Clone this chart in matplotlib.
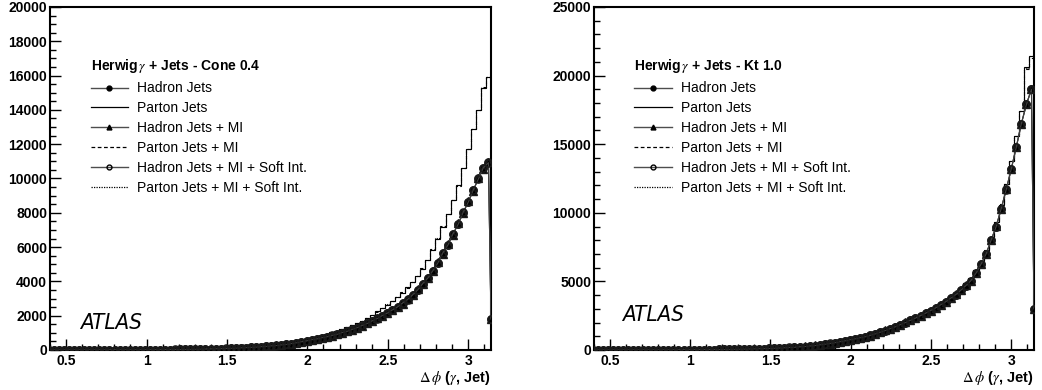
import numpy as np
import matplotlib
matplotlib.use("Agg")
import matplotlib.pyplot as plt
from matplotlib.lines import Line2D
from matplotlib.ticker import MultipleLocator

plt.rcParams['font.family'] = ['Liberation Sans', 'DejaVu Sans']
plt.rcParams['mathtext.fontset'] = 'stix'

# Delta phi binning: 100 bins over [0, pi], bins 12..99 shown, plus the edge point at pi
n_bins = 100
first_bin = 12
phi_edge_point = np.pi

# ---- Cone 0.4 ----
cone_hadron = [4, 4, 5, 5, 5, 6, 6, 6, 7, 7, 8, 8, 9, 9, 10, 11, 11, 12, 13, 14,
               16, 18, 20, 22, 25, 28, 31, 35, 39, 44, 49, 55, 61, 68, 76, 85,
               100, 110, 122, 136, 152, 170, 190, 212, 236, 262, 290, 330, 370, 420, 475,
               535, 590, 645, 705, 770, 840, 915, 1000, 1090, 1190, 1300, 1420, 1550, 1690, 1840,
               2000, 2160, 2330, 2520, 2720, 2950, 3200, 3520, 3850, 4200, 4600, 5100, 5650,
               6150, 6750, 7350, 8000, 8650, 9300, 10000, 10600, 10950]
cone_hadron_mi = [4, 5, 5, 5, 6, 6, 6, 7, 7, 8, 8, 9, 9, 10, 10, 11, 12, 12, 13, 15,
                  16, 18, 20, 23, 25, 28, 32, 35, 40, 44, 50, 55, 62, 69, 77, 86,
                  98, 111, 121, 137, 150, 171, 188, 214, 234, 265, 288, 332, 368, 424, 470,
                  540, 585, 650, 700, 776, 835, 920, 995, 1100, 1180, 1310, 1410, 1560, 1680, 1850,
                  1990, 2170, 2320, 2530, 2710, 2960, 3190, 3540, 3830, 4220, 4580, 5120, 5620,
                  6180, 6720, 7380, 7970, 8680, 9270, 10050, 10580, 10980]
cone_hadron_mi_soft = [5, 5, 5, 6, 6, 6, 7, 7, 7, 8, 8, 9, 9, 10, 11, 11, 12, 13, 14, 15,
                       17, 19, 21, 23, 26, 29, 32, 36, 40, 45, 50, 56, 62, 70, 78, 87,
                       102, 109, 125, 134, 155, 168, 193, 210, 240, 259, 295, 326, 375, 415, 480,
                       530, 598, 640, 712, 765, 848, 910, 1010, 1085, 1200, 1295, 1430, 1545, 1700, 1835,
                       2010, 2150, 2340, 2510, 2735, 2940, 3215, 3505, 3870, 4190, 4620, 5080, 5670,
                       6130, 6780, 7330, 8030, 8620, 9330, 9970, 10630, 10920]
cone_hadron_edge = [1800, 1800, 1800]

cone_parton = [4, 5, 5, 6, 6, 6, 7, 7, 8, 8, 9, 9, 10, 11, 11, 12, 13, 14, 15, 16,
               18, 20, 22, 25, 28, 31, 35, 39, 43, 48, 54, 60, 67, 75, 84, 94,
               105, 117, 130, 145, 162, 181, 202, 226, 252, 281, 313, 350, 400, 460, 540,
               620, 690, 765, 845, 930, 1020, 1115, 1215, 1320, 1430, 1550, 1690, 1860, 2050, 2250,
               2450, 2650, 2870, 3100, 3350, 3650, 3980, 4300, 4750, 5250, 5850, 6500, 7200,
               7950, 8750, 9600, 10600, 11700, 12900, 14000, 15300, 15900]
cone_parton_mi = [4, 5, 6, 6, 6, 7, 7, 8, 8, 9, 9, 10, 10, 11, 12, 12, 13, 14, 15, 17,
                  18, 20, 23, 25, 28, 32, 35, 39, 44, 49, 54, 61, 68, 76, 85, 95,
                  106, 116, 131, 144, 164, 180, 204, 224, 255, 279, 316, 348, 404, 458, 545,
                  615, 695, 760, 850, 925, 1025, 1110, 1220, 1315, 1440, 1545, 1700, 1850, 2060, 2240,
                  2460, 2640, 2880, 3090, 3360, 3640, 3990, 4290, 4760, 5240, 5860, 6490, 7210,
                  7940, 8760, 9590, 10610, 11690, 12910, 13990, 15310, 15890]
cone_parton_mi_soft = [5, 5, 5, 6, 7, 6, 7, 8, 8, 8, 9, 10, 10, 11, 11, 13, 13, 14, 16, 16,
                       19, 20, 22, 26, 28, 31, 36, 39, 43, 49, 54, 60, 68, 75, 85, 94,
                       105, 118, 129, 146, 161, 182, 201, 227, 251, 282, 312, 352, 398, 462, 538,
                       622, 688, 768, 842, 933, 1018, 1118, 1212, 1324, 1428, 1553, 1688, 1863, 2048, 2253,
                       2448, 2654, 2866, 3104, 3346, 3655, 3975, 4305, 4745, 5255, 5845, 6505, 7195,
                       7955, 8745, 9605, 10595, 11705, 12895, 14005, 15295, 15905]

# ---- Kt 1.0 ----
kt_hadron = [5, 5, 6, 6, 7, 7, 8, 8, 9, 10, 10, 11, 12, 13, 14, 15, 16, 17, 18, 20,
             22, 24, 27, 30, 33, 37, 41, 46, 51, 57, 64, 71, 80, 90, 101, 113,
             127, 143, 160, 180, 202, 226, 253, 285, 325,
             370, 420, 470, 530, 595, 665, 740, 810, 880, 960, 1060, 1170, 1290, 1420, 1550,
             1690, 1840, 2000, 2160, 2330, 2500,
             2680, 2870, 3070, 3290, 3520, 3770, 4040, 4350, 4700, 5050, 5600, 6250, 7000,
             8000, 9000, 10300, 11700, 13200, 14800, 16500, 17900, 19000]
kt_hadron_mi = [5, 6, 6, 6, 7, 8, 8, 9, 9, 10, 11, 11, 12, 13, 14, 15, 16, 18, 19, 20,
                22, 25, 27, 30, 34, 37, 42, 46, 52, 57, 65, 71, 81, 89, 102, 112,
                128, 142, 162, 179, 204, 224, 256, 283, 328,
                366, 424, 466, 535, 590, 670, 735, 815, 875, 965, 1055, 1175, 1285, 1425, 1545,
                1695, 1835, 2010, 2150, 2340, 2490,
                2690, 2860, 3080, 3280, 3530, 3760, 4050, 4340, 4710, 5040, 5610, 6240, 7010,
                7990, 9010, 10290, 11710, 13190, 14810, 16490, 17910, 18990]
kt_hadron_mi_soft = [5, 5, 6, 7, 7, 7, 8, 9, 9, 10, 10, 11, 12, 14, 14, 15, 17, 17, 19, 20,
                     23, 24, 28, 30, 34, 38, 41, 47, 51, 58, 64, 72, 80, 91, 100, 114,
                     126, 144, 159, 182, 200, 228, 251, 288, 322,
                     373, 417, 474, 526, 600, 660, 745, 805, 885, 955, 1065, 1165, 1295, 1415, 1555,
                     1685, 1845, 1995, 2165, 2325, 2505,
                     2675, 2875, 3065, 3295, 3515, 3775, 4035, 4355, 4695, 5055, 5595, 6255, 6995,
                     8005, 8995, 10305, 11695, 13205, 14795, 16505, 17895, 19010]
kt_hadron_edge = [3000, 3000, 3000]

kt_parton = [5, 6, 6, 7, 7, 8, 8, 9, 10, 10, 11, 12, 13, 14, 15, 16, 17, 18, 20, 21,
             23, 26, 28, 31, 35, 39, 43, 48, 54, 60, 67, 75, 84, 94, 106, 119,
             133, 150, 168, 188, 211, 236, 265, 298, 338,
             385, 435, 490, 550, 615, 690, 765, 840, 915, 1000, 1100, 1210, 1335, 1465, 1600,
             1745, 1900, 2060, 2225, 2400, 2580,
             2760, 2960, 3170, 3390, 3630, 3890, 4170, 4490, 4850, 5250, 5800, 6450, 7250,
             8250, 9300, 10600, 12100, 13800, 15600, 17400, 20600, 21400]
kt_parton_mi = [5, 6, 7, 7, 8, 8, 9, 9, 10, 11, 11, 12, 13, 14, 15, 16, 18, 19, 20, 22,
                24, 26, 29, 32, 35, 39, 44, 49, 54, 61, 68, 76, 85, 95, 107, 120,
                134, 151, 170, 190, 213, 238, 267, 300, 340,
                388, 438, 493, 553, 620, 694, 770, 845, 920, 1006, 1106, 1216, 1341, 1471, 1606,
                1751, 1906, 2066, 2231, 2406, 2586,
                2766, 2966, 3176, 3396, 3636, 3896, 4176, 4496, 4856, 5256, 5806, 6456, 7256,
                8256, 9306, 10606, 12106, 13806, 15606, 17406, 20500, 21300]
kt_parton_mi_soft = [5, 6, 6, 7, 7, 8, 9, 9, 10, 10, 11, 12, 13, 14, 15, 17, 17, 19, 20, 21,
                     23, 26, 29, 31, 35, 40, 43, 49, 54, 60, 68, 75, 85, 94, 107, 119,
                     134, 150, 169, 188, 212, 236, 266, 298, 339,
                     386, 436, 491, 551, 617, 692, 767, 842, 917, 1003, 1103, 1213, 1338, 1468, 1603,
                     1748, 1903, 2063, 2228, 2403, 2583,
                     2763, 2963, 3173, 3393, 3633, 3893, 4173, 4493, 4853, 5253, 5803, 6453, 7253,
                     8253, 9303, 10603, 12103, 13803, 15603, 17403, 20550, 21450]

edges = np.linspace(0, np.pi, n_bins + 1)[first_bin:]
centers = 0.5 * (edges[:-1] + edges[1:])
x_markers = np.append(centers, phi_edge_point)

hadron_styles = [
    ('Hadron Jets', 'o', 'k'),
    ('Hadron Jets + MI', '^', 'k'),
    ('Hadron Jets + MI + Soft Int.', 'o', 'none'),
]
parton_styles = [
    ('Parton Jets', '-'),
    ('Parton Jets + MI', (0, (3, 2))),
    ('Parton Jets + MI + Soft Int.', (0, (1, 1))),
]

panels = [
    dict(rect=[0.048, 0.1026, 0.4232, 0.8795], ymax=20000, major=2000, minor=500,
         title=r'Herwig$\,\gamma$ + Jets - Cone 0.4',
         hadron=[cone_hadron, cone_hadron_mi, cone_hadron_mi_soft], hadron_edge=cone_hadron_edge,
         parton=[cone_parton, cone_parton_mi, cone_parton_mi_soft],
         leg_anchor=(0.092, 0.853), atlas=(0.068, 0.05)),
    dict(rect=[0.570, 0.1026, 0.4223, 0.8795], ymax=25000, major=5000, minor=1000,
         title=r'Herwig$\,\gamma$ + Jets - Kt 1.0',
         hadron=[kt_hadron, kt_hadron_mi, kt_hadron_mi_soft], hadron_edge=kt_hadron_edge,
         parton=[kt_parton, kt_parton_mi, kt_parton_mi_soft],
         leg_anchor=(0.092, 0.853), atlas=(0.063, 0.072)),
]

fig = plt.figure(figsize=(10.42, 3.9), dpi=100)

for p in panels:
    ax = fig.add_axes(p['rect'])

    # parton-level histograms as steps
    for vals, (label, ls) in zip(p['parton'], parton_styles):
        ax.stairs(vals, edges, baseline=0, color='k', lw=0.8, linestyle=ls, zorder=2)

    # hadron-level histograms with markers
    for vals, edge_val, (label, mk, fc) in zip(p['hadron'], p['hadron_edge'], hadron_styles):
        ax.plot(x_markers, list(vals) + [edge_val], color='0.25', lw=0.8, marker=mk,
                ms=5.2, mfc=fc, mec='0.1', mew=1.0, zorder=3)

    ax.set_xlim(0.4, np.pi)
    ax.set_ylim(0, p['ymax'])

    ax.xaxis.set_major_locator(MultipleLocator(0.5))
    ax.xaxis.set_minor_locator(MultipleLocator(0.1))
    ax.yaxis.set_major_locator(MultipleLocator(p['major']))
    ax.yaxis.set_minor_locator(MultipleLocator(p['minor']))
    ax.tick_params(which='both', direction='in', top=False, right=False, width=1.0)
    ax.tick_params(which='major', length=8)
    ax.tick_params(which='minor', length=4)
    ax.tick_params(axis='x', pad=3)
    ax.tick_params(axis='y', pad=2)
    ax.set_xticks([0.5, 1, 1.5, 2, 2.5, 3])
    ax.set_xticklabels(['0.5', '1', '1.5', '2', '2.5', '3'])
    for lbl in ax.get_xticklabels() + ax.get_yticklabels():
        lbl.set_fontweight('bold')
        lbl.set_fontsize(10)
    for sp in ax.spines.values():
        sp.set_linewidth(1.5)

    ax.text(1.0, -0.083, r'$\Delta\,\phi$ ($\gamma$, Jet)', transform=ax.transAxes,
            ha='right', va='center', fontsize=10.5, fontweight='bold')

    ax.text(p['atlas'][0], p['atlas'][1], 'ATLAS', transform=ax.transAxes,
            ha='left', va='bottom', fontsize=16, fontstyle='italic',
            family=['DejaVu Sans'], fontstretch='condensed')

    handles = []
    labels = []
    for (hl, mk, fc), (pl, ls) in zip(hadron_styles, parton_styles):
        handles.append(Line2D([], [], color='0.3', lw=1, marker=mk, ms=3.5, mfc=fc, mec='k'))
        labels.append(hl)
        handles.append(Line2D([], [], color='k', lw=0.9, linestyle=ls))
        labels.append(pl)
    leg = ax.legend(handles, labels, loc='upper left', bbox_to_anchor=p['leg_anchor'],
                    frameon=False, fontsize=10, title=p['title'],
                    title_fontproperties={'weight': 'bold', 'size': 10},
                    alignment='left', handlelength=2.7, handletextpad=0.65,
                    labelspacing=0.43, borderpad=0, borderaxespad=0, numpoints=1)

fig.savefig('out.png', dpi=100)
